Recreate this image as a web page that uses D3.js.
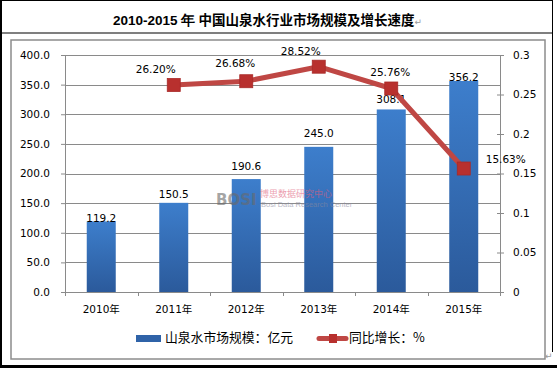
<!DOCTYPE html>
<html>
<head>
<meta charset="utf-8">
<script src="https://cdn.jsdelivr.net/npm/d3@7/dist/d3.min.js"></script>
<style>
html,body{margin:0;padding:0;background:#fff;}
svg{display:block;}
</style>
</head>
<body>
<svg id="chart" width="557" height="368"></svg>
<script>
// ---- data ----
const years = ["2010年","2011年","2012年","2013年","2014年","2015年"];
const marketSize = [119.2, 150.5, 190.6, 245.0, 308.1, 356.2];
const growth = [null, 0.2620, 0.2668, 0.2852, 0.2576, 0.1563];
const growthLabels = [null, "26.20%", "26.68%", "28.52%", "25.76%", "15.63%"];
const leftTicks = [0, 50, 100, 150, 200, 250, 300, 350, 400];
const rightTicks = [0, 0.05, 0.1, 0.15, 0.2, 0.25, 0.3];
const rightTickLabels = ["0", "0.05", "0.1", "0.15", "0.2", "0.25", "0.3"];
const titleText = "2010-2015 年  中国山泉水行业市场规模及增长速度";
const legendBar = "山泉水市场规模：亿元";
const legendLine = "同比增长：%";

// ---- layout ----
const svg = d3.select("#chart");
const FONT = "'DejaVu Sans','Noto Sans CJK SC',sans-serif";
const CJK = "'Noto Sans CJK SC','DejaVu Sans',sans-serif";
const plot = {left: 65, right: 500, top: 55, bottom: 292};
const gridColor = "#8a8a8a";
const barLabelDy = [1, -5, -9, -10, -6, 0];
const pctLabelOff = [null, [-18,-12], [-11,-14.5], [-18,-12], [-1,-12.5], [42,-5.5]];

const defs = svg.append("defs");
const grad = defs.append("linearGradient").attr("id","barGrad")
  .attr("x1","0").attr("y1","0").attr("x2","0").attr("y2","1");
grad.append("stop").attr("offset","0%").attr("stop-color","#3D7ECC");
grad.append("stop").attr("offset","100%").attr("stop-color","#2B5A9B");

// outer frame
svg.append("rect").attr("x",0).attr("y",0).attr("width",557).attr("height",368).attr("fill","#fff");
svg.append("line").attr("x1",0).attr("x2",553).attr("y1",0.5).attr("y2",0.5).attr("stroke","#000").attr("stroke-width",1);
svg.append("line").attr("x1",1).attr("x2",1).attr("y1",0).attr("y2",368).attr("stroke","#000").attr("stroke-width",2);
svg.append("line").attr("x1",552.5).attr("x2",552.5).attr("y1",0).attr("y2",352).attr("stroke","#000").attr("stroke-width",1);
svg.append("line").attr("x1",0).attr("x2",553).attr("y1",33).attr("y2",33).attr("stroke","#000").attr("stroke-width",1.2);
svg.append("rect").attr("x",0).attr("y",365).attr("width",557).attr("height",3).attr("fill","#000");

// title
const title = svg.append("text").attr("x",113).attr("y",25)
  .attr("font-size",13.5).attr("fill","#000").attr("font-weight","bold");
title.append("tspan").attr("font-family","'Liberation Sans',Arial,sans-serif").text(titleText.slice(0,11));
title.append("tspan").attr("font-family",CJK).text(titleText.slice(11));
title.append("tspan").attr("font-family",FONT).attr("font-weight","normal").attr("font-size",9).attr("fill","#999").text("↵");

// chart box
svg.append("rect").attr("x",11).attr("y",40).attr("width",534).attr("height",319)
  .attr("fill","none").attr("stroke","#8c8c8c").attr("stroke-width",1.5);
svg.append("text").attr("x",545).attr("y",359).attr("font-size",9).attr("fill","#999").attr("font-family",FONT).text("↵");

// scales
const x = d3.scaleBand().domain(years).range([plot.left, plot.right]).paddingInner(0.6).paddingOuter(0.3);
const yL = d3.scaleLinear().domain([0,400]).range([plot.bottom, plot.top]);
const yR = d3.scaleLinear().domain([0,0.3]).range([plot.bottom, plot.top]);

// gridlines
svg.append("g").selectAll("line").data(leftTicks.filter(d=>d>0)).join("line")
  .attr("x1",plot.left).attr("x2",plot.right)
  .attr("y1",d=>Math.round(yL(d))+0.5).attr("y2",d=>Math.round(yL(d))+0.5)
  .attr("stroke",gridColor).attr("stroke-width",1);

// left axis
const axL = svg.append("g").attr("transform",`translate(${plot.left},0)`)
  .call(d3.axisLeft(yL).tickValues(leftTicks).tickFormat(d=>d.toFixed(1)).tickSize(4).tickPadding(11));
axL.select(".domain").attr("stroke",gridColor);
axL.selectAll(".tick line").attr("stroke",gridColor);
axL.selectAll("text").attr("font-family",FONT).attr("font-size",10.5).attr("fill","#000");

// right axis
const axR = svg.append("g").attr("transform",`translate(${plot.right},0)`)
  .call(d3.axisRight(yR).tickValues(rightTicks).tickFormat((d,i)=>rightTickLabels[i]).tickSize(4).tickPadding(9));
axR.select(".domain").attr("stroke",gridColor);
axR.selectAll(".tick line").attr("stroke",gridColor).attr("x1",-3);
axR.selectAll("text").attr("font-family",FONT).attr("font-size",10.5).attr("fill","#000");

// bottom axis
const bx = svg.append("g");
bx.append("line").attr("x1",plot.left).attr("x2",plot.right).attr("y1",plot.bottom+0.5).attr("y2",plot.bottom+0.5).attr("stroke",gridColor);
const bounds = years.map(d=>x(d) - x.step()*x.paddingInner()/2);
bounds.push(plot.right);
bx.selectAll("line.tk").data(bounds).join("line").attr("class","tk")
  .attr("x1",d=>Math.round(d)+0.5).attr("x2",d=>Math.round(d)+0.5)
  .attr("y1",plot.bottom).attr("y2",plot.bottom+4).attr("stroke",gridColor);
bx.selectAll("text").data(years).join("text")
  .attr("x",d=>x(d)+x.bandwidth()/2).attr("y",313)
  .attr("text-anchor","middle").attr("font-family",FONT).attr("font-size",10.5).attr("fill","#000")
  .text(d=>d);

// bars
svg.append("g").selectAll("rect").data(marketSize).join("rect")
  .attr("x",(d,i)=>x(years[i])).attr("width",x.bandwidth())
  .attr("y",d=>yL(d)).attr("height",d=>yL(0)-yL(d))
  .attr("fill","url(#barGrad)");

// watermark (overlaid)
const wm = svg.append("g").attr("opacity",0.6);
wm.append("text").attr("x",216).attr("y",205).attr("font-family","'DejaVu Sans',sans-serif")
  .attr("font-weight","bold").attr("font-size",15).attr("fill","#6a6a6a").text("BOSI");
wm.append("text").attr("x",260).attr("y",197).attr("font-family",CJK).attr("font-size",9).attr("fill","#e0607a").text("博思数据研究中心");
wm.append("text").attr("x",261).attr("y",207).attr("font-family","'Liberation Sans',sans-serif").attr("font-size",7.5).attr("fill","#8a8aa0").text("Bosi Data Research Center");

// bar labels
svg.append("g").selectAll("text").data(marketSize).join("text")
  .attr("x",(d,i)=>x(years[i])+x.bandwidth()/2).attr("y",(d,i)=>yL(d)+barLabelDy[i])
  .attr("text-anchor","middle").attr("font-family",FONT).attr("font-size",10.5).attr("fill","#000")
  .text(d=>d.toFixed(1));

// line
const pts = growth.map((v,i)=>({v,i})).filter(d=>d.v!==null);
const line = d3.line().x(d=>x(years[d.i])+x.bandwidth()/2).y(d=>yR(d.v));
svg.append("path").datum(pts).attr("d",line).attr("fill","none")
  .attr("stroke","#BF4744").attr("stroke-width",5).attr("stroke-linejoin","round");
const ms = 13;
svg.append("g").selectAll("rect").data(pts).join("rect")
  .attr("x",d=>x(years[d.i])+x.bandwidth()/2-ms/2).attr("y",d=>yR(d.v)-ms/2)
  .attr("width",ms).attr("height",ms).attr("fill","#B8302E").attr("stroke","#A82A28").attr("stroke-width",0.8);

// percent labels
svg.append("g").selectAll("text").data(pts).join("text")
  .attr("x",d=>x(years[d.i])+x.bandwidth()/2+pctLabelOff[d.i][0])
  .attr("y",d=>yR(d.v)+pctLabelOff[d.i][1])
  .attr("text-anchor","middle").attr("font-family",FONT).attr("font-size",10.5).attr("fill","#000")
  .text(d=>growthLabels[d.i]);

// legend
const lg = svg.append("g");
lg.append("rect").attr("x",136).attr("y",335).attr("width",25).attr("height",7).attr("fill","#2F63A8");
lg.append("text").attr("x",165).attr("y",342).attr("font-family",CJK).attr("font-size",12.8).attr("fill","#000").text(legendBar);
lg.append("line").attr("x1",319).attr("x2",346).attr("y1",338.5).attr("y2",338.5).attr("stroke","#BF4744").attr("stroke-width",5).attr("stroke-linecap","round");
lg.append("rect").attr("x",329).attr("y",334).attr("width",8).attr("height",9).attr("fill","#B8302E");
lg.append("text").attr("x",349).attr("y",342).attr("font-family",CJK).attr("font-size",12.8).attr("fill","#000").text(legendLine);
</script>
</body>
</html>
